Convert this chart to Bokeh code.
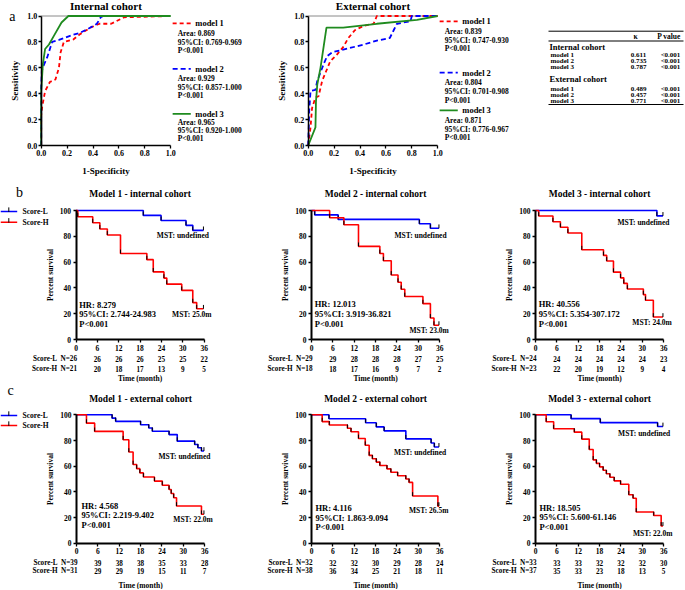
from bokeh.plotting import figure
from bokeh.layouts import row, column
from bokeh.models import Range1d, Label, FixedTicker, PrintfTickFormatter
from bokeh.embed import file_html
from bokeh.resources import INLINE

FONT = "Liberation Serif"
RED = "#ff0000"
BLUE = "#0000ff"
GREEN = "#1f8b1f"

# ---------------- data: ROC ----------------
roc_names = ["model 1", "model 2", "model 3"]
int_m1_fpr = [0, 0, 0.008, 0.03, 0.067, 0.11, 0.137, 0.15, 0.175, 0.25, 0.30, 0.38, 0.45, 0.54, 0.64, 1.0]
int_m1_tpr = [0, 0.23, 0.30, 0.42, 0.49, 0.51, 0.60, 0.72, 0.80, 0.82, 0.86, 0.91, 0.94, 0.94, 0.99, 1.0]
int_m2_fpr = [0, 0, 0.005, 0.02, 0.046, 0.072, 0.085, 0.137, 0.23, 0.30, 0.36, 0.43, 0.46, 0.48, 1.0]
int_m2_tpr = [0, 0.45, 0.58, 0.62, 0.68, 0.76, 0.80, 0.815, 0.85, 0.87, 0.90, 0.94, 0.99, 1.0, 1.0]
int_m3_fpr = [0, 0, 0.013, 0.03, 0.06, 0.10, 0.157, 0.21, 1.0]
int_m3_tpr = [0, 0.42, 0.63, 0.745, 0.78, 0.85, 0.95, 1.0, 1.0]
ext_m1_fpr = [0, 0.018, 0.03, 0.056, 0.08, 0.108, 0.133, 0.17, 0.22, 0.27, 0.31, 0.36, 0.43, 0.505, 0.53, 1.0]
ext_m1_tpr = [0, 0.14, 0.29, 0.37, 0.38, 0.50, 0.56, 0.65, 0.70, 0.76, 0.83, 0.89, 0.925, 0.94, 1.0, 1.0]
ext_m2_fpr = [0, 0.008, 0.018, 0.056, 0.07, 0.12, 0.146, 0.185, 0.27, 0.43, 0.53, 0.63, 0.66, 0.685, 0.79, 0.80, 1.0]
ext_m2_tpr = [0, 0.27, 0.42, 0.43, 0.50, 0.63, 0.69, 0.72, 0.74, 0.78, 0.81, 0.83, 0.89, 0.94, 0.96, 1.0, 1.0]
ext_m3_fpr = [0, 0.056, 0.06, 0.07, 0.095, 0.141, 0.27, 0.53, 0.84, 1.0]
ext_m3_tpr = [0, 0.14, 0.34, 0.47, 0.60, 0.91, 0.91, 0.94, 0.97, 1.0]
int_stats = [["Area: 0.869", "95%CI: 0.769-0.969", "P<0.001"],
             ["Area: 0.929", "95%CI: 0.857-1.000", "P<0.001"],
             ["Area: 0.965", "95%CI: 0.920-1.000", "P<0.001"]]
ext_stats = [["Area: 0.839", "95%CI: 0.747-0.930", "P<0.001"],
             ["Area: 0.804", "95%CI: 0.701-0.908", "P<0.001"],
             ["Area: 0.871", "95%CI: 0.776-0.967", "P<0.001"]]

# ---------------- data: kappa table ----------------
tab_models = ["model 1", "model 2", "model 3"]
tab_int_kappa = ["0.611", "0.735", "0.787"]
tab_int_p = ["<0.001", "<0.001", "<0.001"]
tab_ext_kappa = ["0.489", "0.457", "0.771"]
tab_ext_p = ["<0.001", "<0.001", "<0.001"]

# ---------------- data: Kaplan-Meier ----------------
time_ticks = [0, 6, 12, 18, 24, 30, 36]
b1_L_t = [0, 18.9, 23.9, 30.9, 32.8, 35.8]
b1_L_s = [100, 96.2, 92.3, 88.5, 84.6, 84.6]
b1_H_t = [0, 0.5, 4.7, 6.7, 8.8, 12.5, 19.9, 21.7, 24.7, 25.5, 29.7, 32.8, 33.9, 35.8]
b1_H_s = [100, 95.2, 90.5, 85.7, 81.0, 66.7, 61.9, 52.4, 47.6, 42.9, 38.1, 28.6, 23.8, 23.8]
b2_L_t = [0, 0.9, 7.5, 30.3, 33.4, 35.8]
b2_L_s = [100, 96.6, 93.1, 89.7, 86.2, 86.2]
b2_H_t = [0, 5.1, 9.1, 13.2, 19.2, 20.2, 22.4, 24.3, 25.2, 26.2, 31.3, 33.4, 34.4, 35.8]
b2_H_s = [100, 94.4, 88.9, 72.2, 66.7, 61.1, 50.0, 44.4, 38.9, 33.3, 27.8, 16.7, 11.1, 11.1]
b3_L_t = [0, 34.1, 35.8]
b3_L_s = [100, 95.8, 95.8]
b3_H_t = [0, 0.9, 4.9, 7.0, 9.1, 13.0, 19.1, 20.0, 21.9, 23.9, 24.8, 25.8, 30.3, 30.9, 33.1, 35.8]
b3_H_s = [100, 95.7, 91.3, 87.0, 82.6, 69.6, 65.2, 60.9, 52.2, 47.8, 43.5, 39.1, 34.8, 30.4, 17.4, 17.4]
c1_L_t = [0, 10.0, 11.0, 18.0, 20.3, 21.3, 26.0, 28.3, 33.2, 34.1, 35.1, 35.8]
c1_L_s = [100, 97.4, 94.9, 92.3, 89.7, 87.2, 84.6, 79.5, 76.9, 74.4, 71.8, 71.8]
c1_H_t = [0, 2.8, 5.1, 13.1, 14.7, 15.9, 16.9, 17.8, 18.8, 21.9, 24.1, 26.0, 26.6, 27.3, 28.1, 35.1, 35.8]
c1_H_s = [100, 93.5, 87.1, 80.6, 71.0, 61.3, 58.1, 54.8, 51.6, 48.4, 45.2, 41.9, 38.7, 35.5, 29.0, 22.6, 22.6]
c2_L_t = [0, 4.9, 15.2, 18.2, 20.4, 26.5, 33.6, 34.5, 35.8]
c2_L_s = [100, 96.9, 93.8, 90.6, 87.5, 81.3, 78.1, 75.0, 75.0]
c2_H_t = [0, 3.0, 5.0, 10.1, 11.1, 13.2, 15.1, 16.2, 17.1, 18.2, 19.2, 21.2, 22.3, 24.2, 26.5, 27.4, 28.4, 35.5, 35.8]
c2_H_s = [100, 94.7, 92.1, 89.5, 86.8, 81.6, 76.3, 68.4, 65.8, 63.2, 60.5, 57.9, 55.3, 52.6, 50.0, 47.4, 36.8, 28.9, 28.9]
c3_L_t = [0, 10.0, 18.2, 34.3, 35.8]
c3_L_s = [100, 97.0, 93.9, 90.9, 90.9]
c3_H_t = [0, 3.0, 5.1, 10.9, 13.0, 15.1, 16.2, 17.1, 18.0, 19.0, 19.9, 20.9, 22.1, 23.9, 26.2, 27.4, 28.3, 33.2, 35.3, 35.8]
c3_H_s = [100, 94.6, 89.2, 86.5, 81.1, 73.0, 64.9, 62.2, 59.5, 56.8, 54.1, 51.4, 48.6, 45.9, 37.8, 35.1, 24.3, 21.6, 13.5, 13.5]

b1_risk_L = [26, 26, 26, 26, 25, 25, 22]
b1_risk_H = [21, 20, 18, 17, 13, 9, 5]
b2_risk_L = [29, 29, 28, 28, 28, 27, 25]
b2_risk_H = [18, 18, 17, 16, 9, 7, 2]
b3_risk_L = [24, 24, 24, 24, 24, 24, 23]
b3_risk_H = [23, 22, 20, 19, 12, 9, 4]
c1_risk_L = [39, 39, 38, 38, 35, 33, 28]
c1_risk_H = [31, 29, 29, 19, 15, 11, 7]
c2_risk_L = [32, 32, 32, 30, 29, 28, 24]
c2_risk_H = [38, 36, 34, 25, 21, 18, 11]
c3_risk_L = [33, 33, 33, 32, 32, 32, 30]
c3_risk_H = [37, 35, 33, 23, 18, 13, 5]

km_titles = ["Model 1 - internal cohort", "Model 2 - internal cohort", "Model 3 - internal cohort",
             "Model 1 - external cohort", "Model 2 - external cohort", "Model 3 - external cohort"]
km_hr = ["HR: 8.279", "HR: 12.013", "HR: 40.556", "HR: 4.568", "HR: 4.116", "HR: 18.505"]
km_ci = ["95%CI: 2.744-24.983", "95%CI: 3.919-36.821", "95%CI: 5.354-307.172",
         "95%CI: 2.219-9.402", "95%CI: 1.863-9.094", "95%CI: 5.600-61.146"]
km_p = ["P<0.001"] * 6
km_mst = ["MST: 25.0m", "MST: 23.0m", "MST: 24.0m", "MST: 22.0m", "MST: 26.5m", "MST: 22.0m"]


# ---------------- helpers ----------------
def lab(p, x, y, text, size="8px", bold=True, align="left", baseline="middle", angle=0):
    p.add_layout(Label(x=x, y=y, text=text, text_font=FONT, text_font_size=size,
                       text_font_style="bold" if bold else "normal", text_align=align,
                       text_baseline=baseline, text_color="black", angle=angle))


def canvas(W, H, X0, Y0, sx, sy, axes=True):
    """Figure whose frame fills the whole canvas; data origin at pixel (X0, Y0 from top)."""
    kw = {} if axes else dict(x_axis_type=None, y_axis_type=None)
    p = figure(width=W, height=H, min_border_left=0, min_border_right=0, min_border_top=0,
               min_border_bottom=0, x_range=Range1d(-X0 / sx, (W - X0) / sx),
               y_range=Range1d(-(H - Y0) / sy, Y0 / sy), output_backend="svg",
               toolbar_location=None, **kw)
    p.grid.visible = False
    p.outline_line_color = None
    return p


def style_axes(p, size, lw, standoff=2):
    for ax in (p.xaxis, p.yaxis):
        ax.fixed_location = 0
        ax.axis_line_color = "black"
        ax.axis_line_width = lw
        ax.major_tick_line_color = "black"
        ax.major_tick_line_width = 1.3
        ax.major_tick_out = 3
        ax.major_tick_in = 0
        ax.minor_tick_out = 0
        ax.minor_tick_in = 0
        ax.major_label_text_font = FONT
        ax.major_label_text_font_size = size
        ax.major_label_text_font_style = "bold"
        ax.major_label_text_color = "black"
        ax.major_label_standoff = standoff


RS = 129.5  # px per ROC unit


def roc_fig(W, X0, title, curves, stats, ypos, letter=None):
    p = canvas(W, 180, X0, 145, RS, RS)
    style_axes(p, "8px", 1.5, standoff=1)
    ticks = [0, 0.2, 0.4, 0.6, 0.8, 1.0]
    p.xaxis.ticker = FixedTicker(ticks=ticks)
    p.yaxis.ticker = FixedTicker(ticks=ticks)
    p.xaxis.formatter = PrintfTickFormatter(format="%.1f")
    p.yaxis.formatter = PrintfTickFormatter(format="%.1f")
    p.xaxis.bounds = (0, 1)
    p.yaxis.bounds = (0, 1)
    p.segment(x0=[0], y0=[1], x1=[1], y1=[1], line_color="#8a8a8a", line_width=1)
    styles = [(RED, "4 3"), (BLUE, "5 3"), (GREEN, "solid")]
    for (fpr, tpr), (col, dash) in zip(curves, styles):
        p.line(fpr, tpr, line_color=col, line_width=1.8, line_dash=dash)
    for i, (col, dash) in enumerate(styles):
        y = ypos[i]
        p.line([1.015, 1.155], [y[0], y[0]], line_color=col, line_width=1.8, line_dash=dash)
        lab(p, 1.19, y[0], roc_names[i], "8.5px")
        for j in range(3):
            lab(p, 1.054, y[j + 1], stats[i][j], "7.5px")
    lab(p, 0.5, 1.077, title, "11px", align="center")
    lab(p, -0.2, 0.5, "Sensitivity", "9px", align="center", angle=1.5708)
    lab(p, 0.5, -0.2, "1-Specificity", "9px", align="center")
    if letter:
        lab(p, -0.222, 1.0, letter, "14px", bold=False, align="center")
    return p


KX = 3.56  # px per month


def km_fig(W, H, X0, Y0, sy, k, L, H_, riskL, riskH, ann, rows_y, legend_y=None, letter=None):
    p = canvas(W, H, X0, Y0, KX, sy)
    style_axes(p, "7.5px", 2)
    p.xaxis.ticker = FixedTicker(ticks=time_ticks)
    p.yaxis.ticker = FixedTicker(ticks=[0, 20, 40, 60, 80, 100])
    p.xaxis.bounds = (0, 36)
    p.yaxis.bounds = (0, 100)
    for (t, s), col in ((L, BLUE), (H_, RED)):
        p.step(t, s, mode="after", line_color=col, line_width=1.6)
        p.segment(x0=t[1:], y0=s[1:], x1=t[1:], y1=[v + 3 for v in s[1:]],
                  line_color="black", line_width=1)
    lab(p, 18, 112.5, km_titles[k], "9.5px", align="center")
    hx, hy, ux, uy, mx, my = ann
    lab(p, hx, hy, km_hr[k], "8.5px")
    lab(p, hx, hy - 7.2, km_ci[k], "8.5px")
    lab(p, hx, hy - 14.8, km_p[k], "8.5px")
    lab(p, ux, uy, "MST: undefined", "7.5px")
    lab(p, mx, my, km_mst[k], "7.5px")
    lab(p, -7.2, 50, "Percent survival", "7.5px", align="center", angle=1.5708)
    yl, yh, yt = rows_y
    lab(p, -5.3, yl, "Score-L", "7.2px", align="right")
    lab(p, -5.3, yh, "Score-H", "7.2px", align="right")
    lab(p, -4.35, yl, "N=%d" % riskL[0], "7.2px")
    lab(p, -4.35, yh, "N=%d" % riskH[0], "7.2px")
    for tt, vl, vh in zip(time_ticks[1:], riskL[1:], riskH[1:]):
        lab(p, tt, yl, str(vl), "7.2px", align="center")
        lab(p, tt, yh, str(vh), "7.2px", align="center")
    lab(p, 18, yt, "Time (month)", "7.5px", align="center")
    if legend_y:
        x0 = -X0 / KX
        for yy, col, name in ((legend_y[0], BLUE, "Score-L"), (legend_y[1], RED, "Score-H")):
            p.line([x0, x0 + 16.7 / KX], [yy, yy], line_color=col, line_width=1.6)
            p.line([x0 + 8.3 / KX, x0 + 8.3 / KX], [yy - 0.3, yy + 3.2], line_color="black", line_width=1)
            lab(p, x0 + 22 / KX, yy, name, "7.5px")
    if letter:
        lab(p, letter[0], letter[1], letter[2], "14px", bold=False, align="center")
    return p


# ---------------- row a ----------------
roc1 = roc_fig(255, 40.7, "Internal cohort",
               [(int_m1_fpr, int_m1_tpr), (int_m2_fpr, int_m2_tpr), (int_m3_fpr, int_m3_tpr)],
               int_stats,
               [[0.943, 0.862, 0.797, 0.732], [0.591, 0.514, 0.45, 0.386], [0.244, 0.18, 0.116, 0.052]],
               letter="a")
roc2 = roc_fig(275, 52.7, "External cohort",
               [(ext_m1_fpr, ext_m1_tpr), (ext_m2_fpr, ext_m2_tpr), (ext_m3_fpr, ext_m3_tpr)],
               ext_stats,
               [[0.958, 0.88, 0.814, 0.752], [0.563, 0.485, 0.415, 0.349], [0.271, 0.194, 0.124, 0.059]])

tab = canvas(154, 180, 0, 0, 1, -1, axes=False)   # pixel coordinates, y downwards
tab.y_range.start, tab.y_range.end = 180, 0
tab.segment(x0=[18, 18, 18], x1=[153, 153, 153], y0=[30.7, 40.5, 104], y1=[30.7, 40.5, 104],
            line_color="black", line_width=1)
lab(tab, 105, 35.5, "\u03ba", "7.5px", align="center")
lab(tab, 138.5, 35.5, "P value", "7.5px", align="center")
lab(tab, 19, 46, "Internal cohort", "8.5px")
lab(tab, 19, 78.3, "External cohort", "8.5px")
for i, (yi, ye) in enumerate(zip([54.3, 60.1, 66], [88.3, 94.1, 100])):
    lab(tab, 20, yi, tab_models[i], "7px")
    lab(tab, 108, yi, tab_int_kappa[i], "7px", align="center")
    lab(tab, 140, yi, tab_int_p[i], "7px", align="center")
    lab(tab, 20, ye, tab_models[i], "7px")
    lab(tab, 108, ye, tab_ext_kappa[i], "7px", align="center")
    lab(tab, 140, ye, tab_ext_p[i], "7px", align="center")

# ---------------- rows b and c ----------------
rb = (-15.5, -22.5, -30.2)
rc = (-15.7, -21.9, -32.6)
b1 = km_fig(228, 203, 75.5, 159, 1.29, 0, (b1_L_t, b1_L_s), (b1_H_t, b1_H_s), b1_risk_L, b1_risk_H,
            (0.9, 26.9, 22.7, 80.6, 27.0, 19.4), rb, legend_y=(99.2, 90.9), letter=(-15.9, 114, "b"))
b2 = km_fig(227, 203, 83, 159, 1.29, 1, (b2_L_t, b2_L_s), (b2_H_t, b2_H_s), b2_risk_L, b2_risk_H,
            (0.9, 27.2, 23.3, 80.9, 27.5, 6.6), rb)
b3 = km_fig(229, 203, 80, 159, 1.29, 2, (b3_L_t, b3_L_s), (b3_H_t, b3_H_s), b3_risk_L, b3_risk_H,
            (0.9, 27.2, 23.0, 91.0, 27.2, 12.8), rb)
c1 = km_fig(228, 206, 76, 159.8, 1.285, 3, (c1_L_t, c1_L_s), (c1_H_t, c1_H_s), c1_risk_L, c1_risk_H,
            (1.4, 28.9, 23.0, 67.8, 27.2, 18.5), rc, legend_y=(99.5, 91.7), letter=(-18.5, 118.9, "c"))
c2 = km_fig(227, 206, 83, 159.8, 1.285, 4, (c2_L_t, c2_L_s), (c2_H_t, c2_H_s), c2_risk_L, c2_risk_H,
            (1.1, 27.2, 23.2, 70.9, 27.4, 25.2), rc)
c3 = km_fig(229, 206, 80, 159.8, 1.285, 5, (c3_L_t, c3_L_s), (c3_H_t, c3_H_s), c3_risk_L, c3_risk_H,
            (1.1, 27.5, 23.2, 85.5, 27.4, 8.0), rc)

layout = column(row(roc1, roc2, tab), row(b1, b2, b3), row(c1, c2, c3))
open("out.html", "w").write(file_html(layout, INLINE))
